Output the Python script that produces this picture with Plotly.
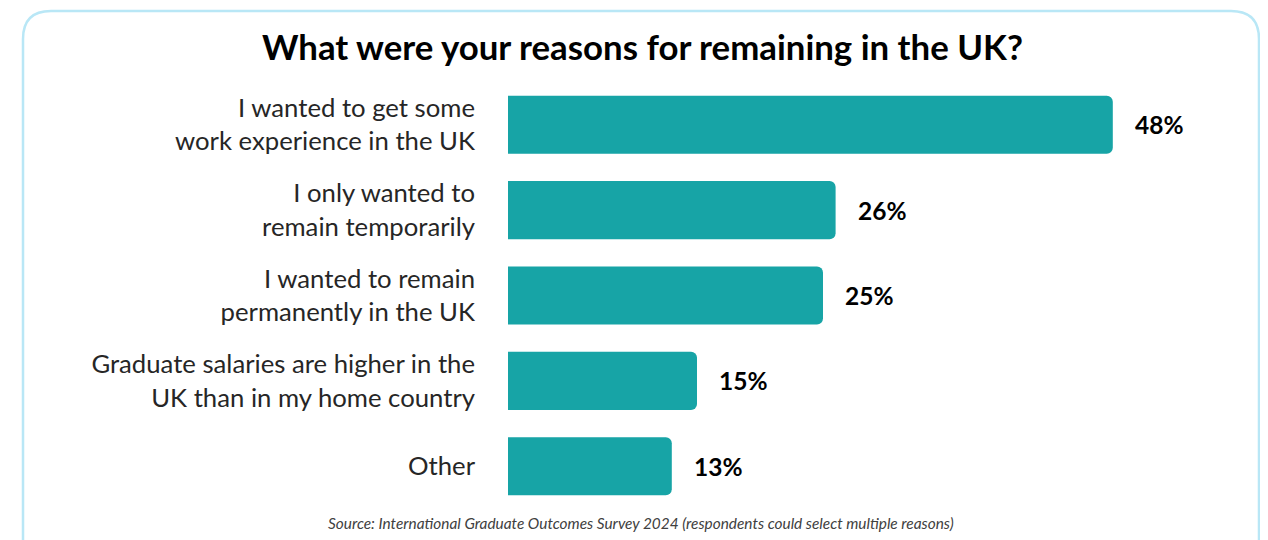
import plotly.graph_objects as go

categories = [
    "I wanted to get some<br>work experience in the UK",
    "I only wanted to<br>remain temporarily",
    "I wanted to remain<br>permanently in the UK",
    "Graduate salaries are higher in the<br>UK than in my home country",
    "Other",
]
values = [48, 26, 25, 15, 13]
value_labels = ["48%", "26%", "25%", "15%", "13%"]

title_text = "What were your reasons for remaining in the UK?"
source_text = "Source: International Graduate Outcomes Survey 2024 (respondents could select multiple reasons)"

BAR_COLOR = "#17A4A6"
FONT = "Lato"

# page body has an 8px margin, so the figure is drawn 8px in from the corner
OFF = 8
W, H = 1268 - OFF, 540 - OFF
ML, MR = 508 - OFF, 67
MT = 82 - OFF
MB = H - (509 - OFF)
pw = W - ML - MR
ph = H - MT - MB


def px2paper_x(px):
    return (px - OFF - ML) / pw


def px2paper_y(py):
    return (H - MB - (py - OFF)) / ph


fig = go.Figure()
fig.add_trace(go.Bar(
    x=values,
    y=categories,
    orientation="h",
    marker=dict(color=BAR_COLOR, cornerradius=6, line=dict(width=0)),
    width=0.68,
    hoverinfo="skip",
))

for v, c, t in zip(values, categories, value_labels):
    fig.add_annotation(
        x=v, y=c, xref="x", yref="y", text=f"<b>{t}</b>",
        showarrow=False, xanchor="left", yanchor="middle", xshift=20,
        font=dict(family=FONT, size=24.5, color="#000000"),
    )

# rounded border (top corners only visible)
x0, x1 = px2paper_x(23), px2paper_x(1259)
yt, yb = px2paper_y(11), px2paper_y(570)
rx, ry = 28 / pw, 28 / ph
path = (
    f"M {x0},{yb} L {x0},{yt - ry} Q {x0},{yt} {x0 + rx},{yt} "
    f"L {x1 - rx},{yt} Q {x1},{yt} {x1},{yt - ry} L {x1},{yb}"
)
fig.add_shape(type="path", path=path, xref="paper", yref="paper",
              line=dict(color="#B9E7F6", width=2.5), layer="below")

fig.add_annotation(
    x=px2paper_x(642), y=px2paper_y(47), xref="paper", yref="paper",
    text=f"<b>{title_text}</b>", showarrow=False, xanchor="center", yanchor="middle",
    font=dict(family=FONT, size=34.8, color="#000000"),
)
fig.add_annotation(
    x=px2paper_x(641), y=px2paper_y(523), xref="paper", yref="paper",
    text=f"<i>{source_text}</i>", showarrow=False, xanchor="center", yanchor="middle",
    font=dict(family=FONT, size=15.4, color="#404040"),
)

fig.update_layout(
    width=W, height=H,
    margin=dict(l=ML, r=MR, t=MT, b=MB, pad=0),
    paper_bgcolor="#FFFFFF", plot_bgcolor="#FFFFFF",
    showlegend=False,
    xaxis=dict(range=[0, 55], visible=False, fixedrange=True),
    yaxis=dict(autorange="reversed", showgrid=False, zeroline=False, showline=False,
               ticks="", ticklabelstandoff=32,
               tickfont=dict(family=FONT, size=25.7, color="#262626"), fixedrange=True),
    font=dict(family=FONT),
)

fig.write_html("out.html", config={"displayModeBar": False})
